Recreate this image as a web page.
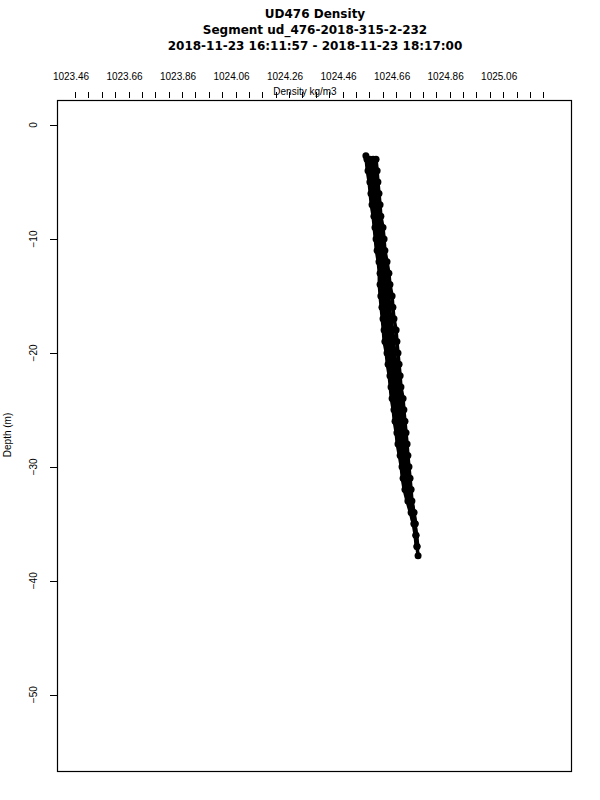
<!DOCTYPE html>
<html>
<head>
<meta charset="utf-8">
<script src="https://cdn.jsdelivr.net/npm/d3@7"></script>
<style>
  body { margin: 0; background: #fff; }
  text { font-family: "Liberation Sans", Arial, sans-serif; fill: #000; }
</style>
</head>
<body>
<div id="chart"></div>
<script>
'use strict';

const titleLines = [
  'UD476 Density',
  'Segment ud_476-2018-315-2-232',
  '2018-11-23 16:11:57 - 2018-11-23 18:17:00'
];
const xLabel = 'Density kg/m3';
const yLabel = 'Depth (m)';
const xLabels = [1023.46, 1023.66, 1023.86, 1024.06, 1024.26, 1024.46, 1024.66, 1024.86, 1025.06];
const yTicks = [0, -10, -20, -30, -40, -50];

// depth (m, negative down) shared by the overlapping profiles
const depths = [-2.7, -3, -4, -5, -6, -7, -8, -9, -10, -11, -12, -13, -14, -15, -16, -17, -18, -19,
  -20, -21, -22, -23, -24, -25, -26, -27, -28, -29, -30, -31, -32, -33, -34, -35, -36, -37, -37.8];

const profileA = [1024.547, 1024.551, 1024.555, 1024.562, 1024.566, 1024.570, 1024.577, 1024.581, 1024.585,
  1024.589, 1024.596, 1024.600, 1024.600, 1024.603, 1024.607, 1024.611, 1024.615, 1024.618, 1024.626,
  1024.630, 1024.637, 1024.641, 1024.645, 1024.652, 1024.656, 1024.663, 1024.667, 1024.675, 1024.682,
  1024.686, 1024.693, 1024.704, 1024.716, 1024.727, 1024.734, 1024.738, null];
const profileB = [null, 1024.562, 1024.566, 1024.574, 1024.577, 1024.581, 1024.585, 1024.592, 1024.596,
  1024.600, 1024.607, 1024.611, 1024.611, 1024.618, 1024.622, 1024.626, 1024.630, 1024.633, 1024.641,
  1024.645, 1024.648, 1024.652, 1024.660, 1024.663, 1024.667, 1024.675, 1024.678, 1024.686, 1024.689,
  1024.693, 1024.701, 1024.708, 1024.719, 1024.727, null, null, null];
const profileC = [null, 1024.574, 1024.577, 1024.581, 1024.585, 1024.589, 1024.596, 1024.600, 1024.603,
  1024.607, 1024.615, 1024.622, 1024.626, 1024.630, 1024.633, 1024.637, 1024.645, 1024.648, 1024.652,
  1024.656, 1024.663, 1024.667, 1024.671, 1024.678, 1024.682, 1024.686, 1024.689, 1024.693, 1024.701,
  1024.704, 1024.708, 1024.716, 1024.723, 1024.731, null, null, null];
const profileD = [null, 1024.585, 1024.589, 1024.592, 1024.596, 1024.600, 1024.603, 1024.611, 1024.615,
  1024.618, 1024.626, 1024.633, 1024.637, 1024.645, 1024.648, 1024.652, 1024.660, 1024.663, 1024.667,
  1024.671, 1024.675, 1024.678, 1024.686, 1024.689, 1024.693, 1024.697, 1024.701, 1024.704, 1024.708,
  1024.712, 1024.716, 1024.719, 1024.727, 1024.731, 1024.734, 1024.738, 1024.742];

// the right-most profile gets a thinner joining line, which leaves a ragged edge
const profiles = [
  {values: profileA, stroke: 5},
  {values: profileB, stroke: 5},
  {values: profileC, stroke: 5},
  {values: profileD, stroke: 3.5}
];

let width = 600;
let height = 800;
let box = {left: 57, top: 100, right: 571, bottom: 771};

let svg = d3
  .select('#chart')
  .append('svg')
  .attr('width', width)
  .attr('height', height);

let x = d3
  .scaleLinear()
  .domain([1023.3927, 1025.3135])
  .range([box.left, box.right]);

let y = d3
  .scaleLinear()
  .domain([2.2, -56.7])
  .range([box.top, box.bottom]);

// title
svg
  .selectAll('text.title')
  .data(titleLines)
  .enter()
  .append('text')
  .attr('class', 'title')
  .attr('x', 315)
  .attr('y', (d, i) => 17.5 + i * 16)
  .attr('text-anchor', 'middle')
  .style('font-family', '"DejaVu Sans", sans-serif')
  .attr('font-size', '12px')
  .attr('font-weight', 'bold')
  .text(d => d);

// top axis: minor ticks every 0.05, labels every 0.2
let minorTicks = d3.range(0, 36).map(i => 1023.46 + i * 0.05);
svg
  .selectAll('line.xtick')
  .data(minorTicks)
  .enter()
  .append('line')
  .attr('class', 'xtick')
  .attr('x1', d => Math.round(x(d)) + 0.5)
  .attr('x2', d => Math.round(x(d)) + 0.5)
  .attr('y1', 92)
  .attr('y2', 98)
  .attr('stroke', '#000');

svg
  .selectAll('text.xlabel')
  .data(xLabels)
  .enter()
  .append('text')
  .attr('class', 'xlabel')
  .attr('x', d => x(d) - 4)
  .attr('y', 80)
  .attr('text-anchor', 'middle')
  .attr('font-size', '10px')
  .text(d => d.toFixed(2));

svg
  .append('text')
  .attr('x', 305)
  .attr('y', 95)
  .attr('text-anchor', 'middle')
  .attr('font-size', '10px')
  .text(xLabel);

// left axis
svg
  .selectAll('line.ytick')
  .data(yTicks)
  .enter()
  .append('line')
  .attr('class', 'ytick')
  .attr('x1', 50)
  .attr('x2', box.left)
  .attr('y1', d => Math.round(y(d)) + 0.5)
  .attr('y2', d => Math.round(y(d)) + 0.5)
  .attr('stroke', '#000');

svg
  .selectAll('text.ylabel')
  .data(yTicks)
  .enter()
  .append('text')
  .attr('class', 'ylabel')
  .attr('transform', d => 'translate(37,' + y(d) + ') rotate(-90)')
  .attr('text-anchor', 'middle')
  .attr('font-size', '10px')
  .text(d => d === 0 ? '0' : '\u2212' + Math.abs(d));

svg
  .append('text')
  .attr('transform', 'translate(11,435) rotate(-90)')
  .attr('text-anchor', 'middle')
  .attr('font-size', '10px')
  .text(yLabel);

// data profiles
let line = d3
  .line()
  .defined(d => d[0] !== null)
  .x(d => x(d[0]))
  .y(d => y(d[1]));

profiles.forEach(function(profile) {
  let pts = profile.values.map((v, i) => [v, depths[i]]);
  svg
    .append('path')
    .datum(pts)
    .attr('d', line)
    .attr('fill', 'none')
    .attr('stroke', '#000')
    .attr('stroke-width', profile.stroke)
    .attr('stroke-linejoin', 'round')
    .attr('stroke-linecap', 'round');
  svg
    .append('g')
    .selectAll('circle')
    .data(pts.filter(d => d[0] !== null))
    .enter()
    .append('circle')
    .attr('cx', d => x(d[0]))
    .attr('cy', d => y(d[1]))
    .attr('r', 3.5)
    .attr('fill', '#000');
});

// plot frame
svg
  .append('rect')
  .attr('x', box.left + 0.5)
  .attr('y', box.top + 0.5)
  .attr('width', box.right - box.left)
  .attr('height', box.bottom - box.top)
  .attr('fill', 'none')
  .attr('stroke', '#000')
  .attr('stroke-width', 1.2);
</script>
</body>
</html>
